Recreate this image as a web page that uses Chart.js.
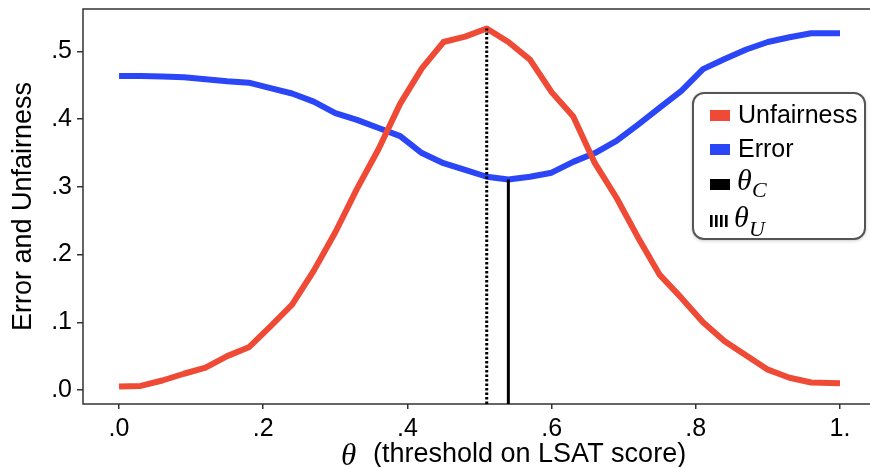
<!DOCTYPE html>
<html>
<head>
<meta charset="utf-8">
<script src="https://cdn.jsdelivr.net/npm/chart.js@4.4.0/dist/chart.umd.min.js"></script>
<style>
  html, body { margin: 0; padding: 0; background: #fff; overflow: hidden; }
  .wrap { position: relative; width: 880px; height: 467px; }
</style>
</head>
<body>
<div class="wrap"><canvas id="chart"></canvas></div>
<script>
// threshold on LSAT score (x) and the two curves
const thresholds = [0, .03, .06, .09, .12, .15, .18, .21, .24, .27, .30, .33, .36, .39, .42, .45, .48,
  .51, .54, .57, .60, .63, .66, .69, .72, .75, .78, .81, .84, .87, .90, .93, .96, 1.0];
const unfairness = [.005, .006, .014, .024, .033, .050, .063, .094, .126, .176, .233, .297, .356, .423, .475, .514, .522,
  .534, .514, .488, .440, .404, .335, .284, .225, .170, .136, .100, .072, .051, .030, .018, .011, .010];
const error = [.464, .464, .463, .462, .459, .456, .454, .446, .438, .426, .409, .399, .387, .375, .350, .335, .325,
  .315, .311, .315, .321, .337, .350, .368, .392, .417, .442, .474, .489, .503, .514, .521, .527, .527];

const thetaC = 0.54;
const thetaU = 0.51;

const xTicks = [0, .2, .4, .6, .8, 1];
const xTickLabels = ['.0', '.2', '.4', '.6', '.8', '1.'];
const yTicks = [0, .1, .2, .3, .4, .5];
const yTickLabels = ['.0', '.1', '.2', '.3', '.4', '.5'];

const RED = '#ee4a36';
const BLUE = '#2b46f7';
const FRAME = '#333';
const SANS = "'Liberation Sans', Arial, Helvetica, sans-serif";
const SERIF = "'Liberation Serif', 'Times New Roman', serif";

const X_MIN = -0.05, X_MAX = 1.0555;
const Y_MIN = -0.0207, Y_MAX = 0.5628;

const pts = ys => thresholds.map((t, i) => ({ x: t, y: ys[i] }));
const cVal = error[thresholds.indexOf(thetaC)];
const uVal = unfairness[thresholds.indexOf(thetaU)];

// box round the plot, the x title with a serif theta, and the legend
const extras = {
  id: 'extras',
  beforeDatasetsDraw(chart) {
    const { ctx, chartArea: a } = chart;
    ctx.save();
    ctx.strokeStyle = FRAME;
    ctx.lineWidth = 1.5;
    ctx.strokeRect(a.left, a.top, a.right - a.left, a.bottom - a.top);
    ctx.restore();
  },
  afterDraw(chart) {
    const { ctx, chartArea: a } = chart;
    ctx.save();
    ctx.fillStyle = '#000';
    ctx.textBaseline = 'alphabetic';
    ctx.textAlign = 'left';

    // x title
    const tx = a.left + 258;
    ctx.font = 'italic 31px ' + SERIF;
    ctx.fillText('\u03b8', tx, 465);
    ctx.font = '27px ' + SANS;
    ctx.fillText('(threshold on LSAT score)', tx + 32, 462);

    // legend
    const lx = a.right - 187, ly = a.top + 84, lw = 172, lh = 146;
    ctx.save();
    ctx.shadowColor = 'rgba(0,0,0,0.3)';
    ctx.shadowBlur = 4;
    ctx.shadowOffsetY = 1;
    ctx.fillStyle = '#fff';
    ctx.beginPath();
    ctx.roundRect(lx, ly, lw, lh, 11);
    ctx.fill();
    ctx.restore();
    ctx.strokeStyle = '#555';
    ctx.lineWidth = 2;
    ctx.beginPath();
    ctx.roundRect(lx, ly, lw, lh, 11);
    ctx.stroke();

    const sx = lx + 17, txl = lx + 45;
    ctx.fillStyle = RED;
    ctx.fillRect(sx, ly + 17, 20, 11);
    ctx.fillStyle = BLUE;
    ctx.fillRect(sx, ly + 51, 20, 11);
    ctx.fillStyle = '#000';
    ctx.fillRect(sx, ly + 86, 20, 11);
    for (let i = 0; i < 4; i++) ctx.fillRect(sx + i * 5, ly + 122, 2.6, 12);

    ctx.font = '25px ' + SANS;
    ctx.textBaseline = 'middle';
    ctx.fillText('Unfairness', txl, ly + 23);
    ctx.fillText('Error', txl, ly + 57);
    ctx.textBaseline = 'alphabetic';
    ctx.font = 'italic 30px ' + SERIF;
    ctx.fillText('\u03b8', txl - 1, ly + 97);
    ctx.fillText('\u03b8', txl - 4, ly + 134);
    ctx.font = 'italic 22px ' + SERIF;
    ctx.fillText('C', txl + 14, ly + 104);
    ctx.fillText('U', txl + 11, ly + 143);
    ctx.restore();
  }
};

new Chart(document.getElementById('chart'), {
  type: 'line',
  data: {
    datasets: [
      {
        label: 'thetaU', data: [{ x: thetaU, y: Y_MIN }, { x: thetaU, y: uVal }],
        borderColor: '#000', borderWidth: 3, borderDash: [2.5, 2], pointRadius: 0, order: 1
      },
      {
        label: 'thetaC', data: [{ x: thetaC, y: Y_MIN }, { x: thetaC, y: cVal }],
        borderColor: '#000', borderWidth: 3, pointRadius: 0, order: 1
      },
      {
        label: 'Unfairness', data: pts(unfairness), borderJoinStyle: 'round',
        borderColor: RED, borderWidth: 6, pointRadius: 0, tension: 0, order: 2
      },
      {
        label: 'Error', data: pts(error), borderJoinStyle: 'round',
        borderColor: BLUE, borderWidth: 6, pointRadius: 0, tension: 0, order: 2
      }
    ]
  },
  options: {
    responsive: true,
    maintainAspectRatio: false,
    animation: false,
    layout: { padding: { top: 9, left: 0, right: 0, bottom: 0 } },
    plugins: { legend: { display: false }, tooltip: { enabled: false } },
    scales: {
      x: {
        type: 'linear', min: X_MIN, max: X_MAX,
        afterBuildTicks: s => { s.ticks = xTicks.map(v => ({ value: v })); },
        afterFit: s => { s.height = 63; s.paddingLeft = 0; s.paddingRight = 0; },
        ticks: {
          color: '#000', padding: 5, maxRotation: 0, font: { family: SANS, size: 25 },
          callback: v => xTickLabels[xTicks.indexOf(v)]
        },
        grid: { drawOnChartArea: false, drawTicks: true, tickLength: 5, color: FRAME, lineWidth: 1.5 },
        border: { display: false }
      },
      y: {
        min: Y_MIN, max: Y_MAX,
        afterBuildTicks: s => { s.ticks = yTicks.map(v => ({ value: v })); },
        afterFit: s => { s.width = 83; s.paddingTop = 0; s.paddingBottom = 0; },
        ticks: {
          color: '#000', padding: 5, font: { family: SANS, size: 25 },
          callback: v => yTickLabels[yTicks.indexOf(v)]
        },
        grid: { drawOnChartArea: false, drawTicks: true, tickLength: 6, color: FRAME, lineWidth: 1.5 },
        border: { display: false },
        title: {
          display: true, text: 'Error and Unfairness', color: '#000',
          font: { family: SANS, size: 27 }, padding: { top: 7, bottom: 0 }
        }
      }
    }
  },
  plugins: [extras]
});
</script>
</body>
</html>
